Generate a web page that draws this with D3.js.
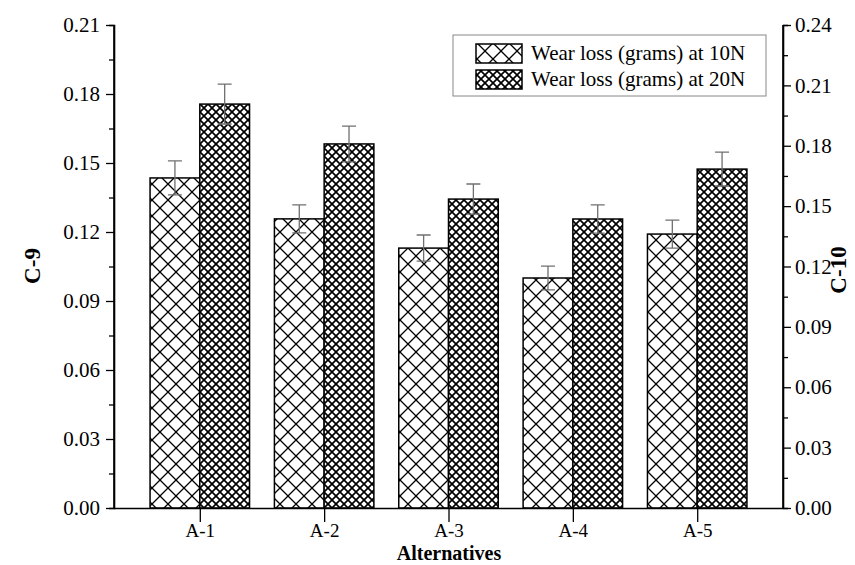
<!DOCTYPE html>
<html>
<head>
<meta charset="utf-8">
<script src="https://cdn.jsdelivr.net/npm/d3@7"></script>
<style>
  body { margin: 0; background: #fff; }
  text { font-family: "Liberation Serif", "Times New Roman", serif; }
</style>
</head>
<body>
<div id="chart"></div>
<script>
var categories = ["A-1", "A-2", "A-3", "A-4", "A-5"];
var wear10 = [0.1435, 0.1257, 0.1130, 0.1000, 0.1191];   // C-9 axis
var err10 = [0.0074, 0.0061, 0.0057, 0.0052, 0.0061];
var wear20 = [0.2007, 0.1809, 0.1535, 0.1436, 0.1684];   // C-10 axis
var err20 = [0.0099, 0.0089, 0.0075, 0.0070, 0.0084];
var leftTicks = [0, 0.03, 0.06, 0.09, 0.12, 0.15, 0.18, 0.21];
var rightTicks = [0, 0.03, 0.06, 0.09, 0.12, 0.15, 0.18, 0.21, 0.24];
var seriesNames = ["Wear loss (grams) at 10N", "Wear loss (grams) at 20N"];

var w = 855, h = 565;
var plotLeft = 114, plotRight = 783, plotTop = 25, plotBottom = 508;

var svg = d3.select("#chart").append("svg")
  .attr("width", w).attr("height", h);

var defs = svg.append("defs");
var p1 = defs.append("pattern").attr("id", "hatch10")
  .attr("patternUnits", "userSpaceOnUse").attr("width", 16).attr("height", 16);
p1.append("rect").attr("width", 16).attr("height", 16).attr("fill", "#fff");
p1.append("path").attr("d", "M0,0L16,16M16,0L0,16")
  .attr("stroke", "#000").attr("stroke-width", 1.3);
var p2 = defs.append("pattern").attr("id", "hatch20")
  .attr("patternUnits", "userSpaceOnUse").attr("width", 8).attr("height", 8);
p2.append("rect").attr("width", 8).attr("height", 8).attr("fill", "#fff");
p2.append("path").attr("d", "M0,0L8,8M8,0L0,8")
  .attr("stroke", "#000").attr("stroke-width", 1.7);

var x = d3.scalePoint().domain(categories).range([plotLeft, plotRight]).padding(0.69);
var yL = d3.scaleLinear().domain([0, 0.21]).range([plotBottom, plotTop]);
var yR = d3.scaleLinear().domain([0, 0.24]).range([plotBottom, plotTop]);
var bw = x.step() * 0.4;

// bars
svg.append("g").selectAll("rect").data(categories).enter().append("rect")
  .attr("x", (d) => x(d) - bw)
  .attr("y", (d, i) => yL(wear10[i]))
  .attr("width", bw)
  .attr("height", (d, i) => plotBottom - yL(wear10[i]))
  .attr("fill", "url(#hatch10)")
  .attr("stroke", "#000").attr("stroke-width", 1.5);

svg.append("g").selectAll("rect").data(categories).enter().append("rect")
  .attr("x", (d) => x(d))
  .attr("y", (d, i) => yR(wear20[i]))
  .attr("width", bw)
  .attr("height", (d, i) => plotBottom - yR(wear20[i]))
  .attr("fill", "url(#hatch20)")
  .attr("stroke", "#000").attr("stroke-width", 1.5);

// error bars
function errorBars(vals, errs, scale, offset) {
  var g = svg.append("g").attr("stroke", "#707070").attr("stroke-width", 1.3).attr("fill", "none");
  categories.forEach(function (c, i) {
    var cx = x(c) + offset;
    var y1 = scale(vals[i] + errs[i]), y2 = scale(vals[i] - errs[i]);
    g.append("path").attr("d", `M${cx},${y1}L${cx},${y2}M${cx - 7},${y1}L${cx + 7},${y1}M${cx - 7},${y2}L${cx + 7},${y2}`);
  });
}
errorBars(wear10, err10, yL, -bw / 2);
errorBars(wear20, err20, yR, bw / 2);

// axes
var axL = svg.append("g").attr("transform", `translate(${plotLeft},0)`)
  .call(d3.axisLeft(yL).tickValues(leftTicks).tickFormat(d3.format(".2f")).tickSize(8).tickPadding(6));
svg.append("g").attr("transform", `translate(${plotLeft},0)`)
  .call(d3.axisLeft(yL).tickValues(d3.range(0.015, 0.21, 0.03)).tickFormat("").tickSize(5));
var axR = svg.append("g").attr("transform", `translate(${plotRight},0)`)
  .call(d3.axisRight(yR).tickValues(rightTicks).tickFormat(d3.format(".2f")).tickSize(8).tickPadding(4));
svg.append("g").attr("transform", `translate(${plotRight},0)`)
  .call(d3.axisRight(yR).tickValues(d3.range(0.015, 0.24, 0.03)).tickFormat("").tickSize(5));
var axB = svg.append("g").attr("transform", `translate(0,${plotBottom})`)
  .call(d3.axisBottom(x).tickSize(14).tickPadding(2));

svg.selectAll(".domain").attr("stroke", "#000").attr("stroke-width", 1.6);
svg.selectAll(".tick line").attr("stroke", "#000").attr("stroke-width", 1.3);
svg.selectAll(".tick text").attr("font-family", "Liberation Serif").attr("font-size", 21).attr("fill", "#000");
axB.selectAll(".tick text").attr("font-size", 19);
axB.select(".domain").attr("d", `M${plotLeft},0.5H${plotRight}`);
axL.select(".domain").attr("d", `M0,${plotTop}V${plotBottom}`);
axR.select(".domain").attr("d", `M0,${plotTop}V${plotBottom}`);

// axis titles
svg.append("text").attr("x", 449).attr("y", 560).attr("text-anchor", "middle")
  .attr("font-size", 20).attr("font-weight", "bold").text("Alternatives");
svg.append("text").attr("transform", "translate(40,266)rotate(-90)").attr("text-anchor", "middle")
  .attr("font-size", 23).attr("font-weight", "bold").text("C-9");
svg.append("text").attr("transform", "translate(846,270)rotate(-90)").attr("text-anchor", "middle")
  .attr("font-size", 23).attr("font-weight", "bold").text("C-10");

// legend
var lg = svg.append("g").attr("transform", "translate(453,35)");
lg.append("rect").attr("width", 313).attr("height", 61)
  .attr("fill", "#fff").attr("stroke", "#888").attr("stroke-width", 1);
seriesNames.forEach(function (name, i) {
  lg.append("rect").attr("x", 23).attr("y", 9 + i * 26).attr("width", 46).attr("height", 19)
    .attr("fill", i === 0 ? "url(#hatch10)" : "url(#hatch20)")
    .attr("stroke", "#000").attr("stroke-width", 1.5);
  lg.append("text").attr("x", 78).attr("y", 25 + i * 26)
    .attr("font-size", 21).text(name);
});
</script>
</body>
</html>
